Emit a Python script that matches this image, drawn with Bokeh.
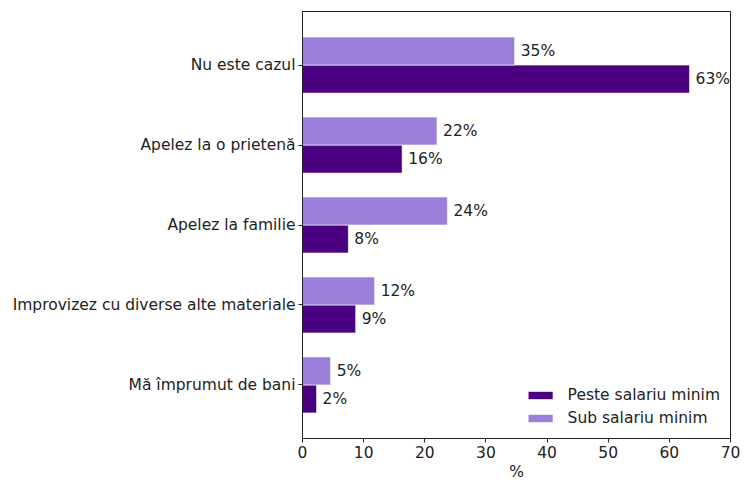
from bokeh.plotting import figure
from bokeh.models import FactorRange, ColumnDataSource, Range1d, FixedTicker, Legend, LegendItem
from bokeh.transform import dodge
from bokeh.core.properties import value
from bokeh.embed import file_html
from bokeh.resources import INLINE

categories = ["Nu este cazul", "Apelez la o prietenă", "Apelez la familie",
              "Improvizez cu diverse alte materiale", "Mă împrumut de bani"]
peste = [63.3, 16.3, 7.5, 8.7, 2.3]
sub = [34.7, 22.0, 23.7, 11.8, 4.6]
peste_labels = ["63%", "16%", "8%", "9%", "2%"]
sub_labels = ["35%", "22%", "24%", "12%", "5%"]
x_ticks = [0, 10, 20, 30, 40, 50, 60, 70]

DARK = "#4B0082"
LIGHT = "#9B7FDB"
FONT = "DejaVu Sans"
FS = "15.5px"

src = ColumnDataSource(dict(cat=categories, peste=peste, sub=sub,
                            pl=peste_labels, sl=sub_labels))

p = figure(width=740, height=483, output_backend="svg", toolbar_location=None,
           y_range=FactorRange(factors=categories[::-1], range_padding=0.17,
                               range_padding_units="absolute"),
           x_range=Range1d(0, 70))
p.min_border_left = 302
p.min_border_right = 10
p.min_border_top = 11
p.min_border_bottom = 10

r_peste = p.hbar(y=dodge('cat', -0.175, range=p.y_range), right='peste', left=0,
                 height=0.35, source=src, fill_color=DARK, line_color="white", line_width=0.6)
r_sub = p.hbar(y=dodge('cat', 0.175, range=p.y_range), right='sub', left=0,
               height=0.35, source=src, fill_color=LIGHT, line_color="white", line_width=0.6)

p.text(x='peste', y=dodge('cat', -0.175, range=p.y_range), text='pl', source=src,
       x_offset=6, text_baseline='middle', text_align='left', text_font_size=FS,
       text_font=value(FONT), text_color="#222222")
p.text(x='sub', y=dodge('cat', 0.175, range=p.y_range), text='sl', source=src,
       x_offset=6, text_baseline='middle', text_align='left', text_font_size=FS,
       text_font=value(FONT), text_color="#222222")

p.xgrid.visible = False
p.ygrid.visible = False
p.outline_line_color = "#222222"
p.outline_line_width = 1

p.xaxis.ticker = FixedTicker(ticks=x_ticks)
p.xaxis.axis_label = "%"
p.xaxis.axis_label_text_font_style = "normal"
p.xaxis.axis_label_text_font_size = FS
p.xaxis.axis_label_text_font = FONT
p.xaxis.axis_label_text_color = "#222222"
p.xaxis.axis_label_standoff = 2
for ax in (p.xaxis, p.yaxis):
    ax.major_label_text_font_size = FS
    ax.major_label_text_font = FONT
    ax.major_label_text_color = "#222222"
    ax.axis_line_color = "#222222"
    ax.major_tick_line_color = "#222222"
    ax.major_tick_out = 4
    ax.major_tick_in = 0
    ax.minor_tick_line_color = None
    ax.major_label_standoff = 3
p.yaxis.group_text_font_size = FS

legend = Legend(items=[LegendItem(label="Peste salariu minim", renderers=[r_peste]),
                       LegendItem(label="Sub salariu minim", renderers=[r_sub])],
                location="bottom_right")
legend.border_line_color = None
legend.background_fill_alpha = 0
legend.label_text_font = FONT
legend.label_text_font_size = FS
legend.label_text_color = "#222222"
legend.glyph_width = 31
legend.glyph_height = 10
legend.label_height = 20
legend.label_standoff = 12
legend.spacing = 3
legend.margin = 10
legend.padding = 4
p.add_layout(legend)

open("out.html", "w").write(file_html(p, INLINE))
